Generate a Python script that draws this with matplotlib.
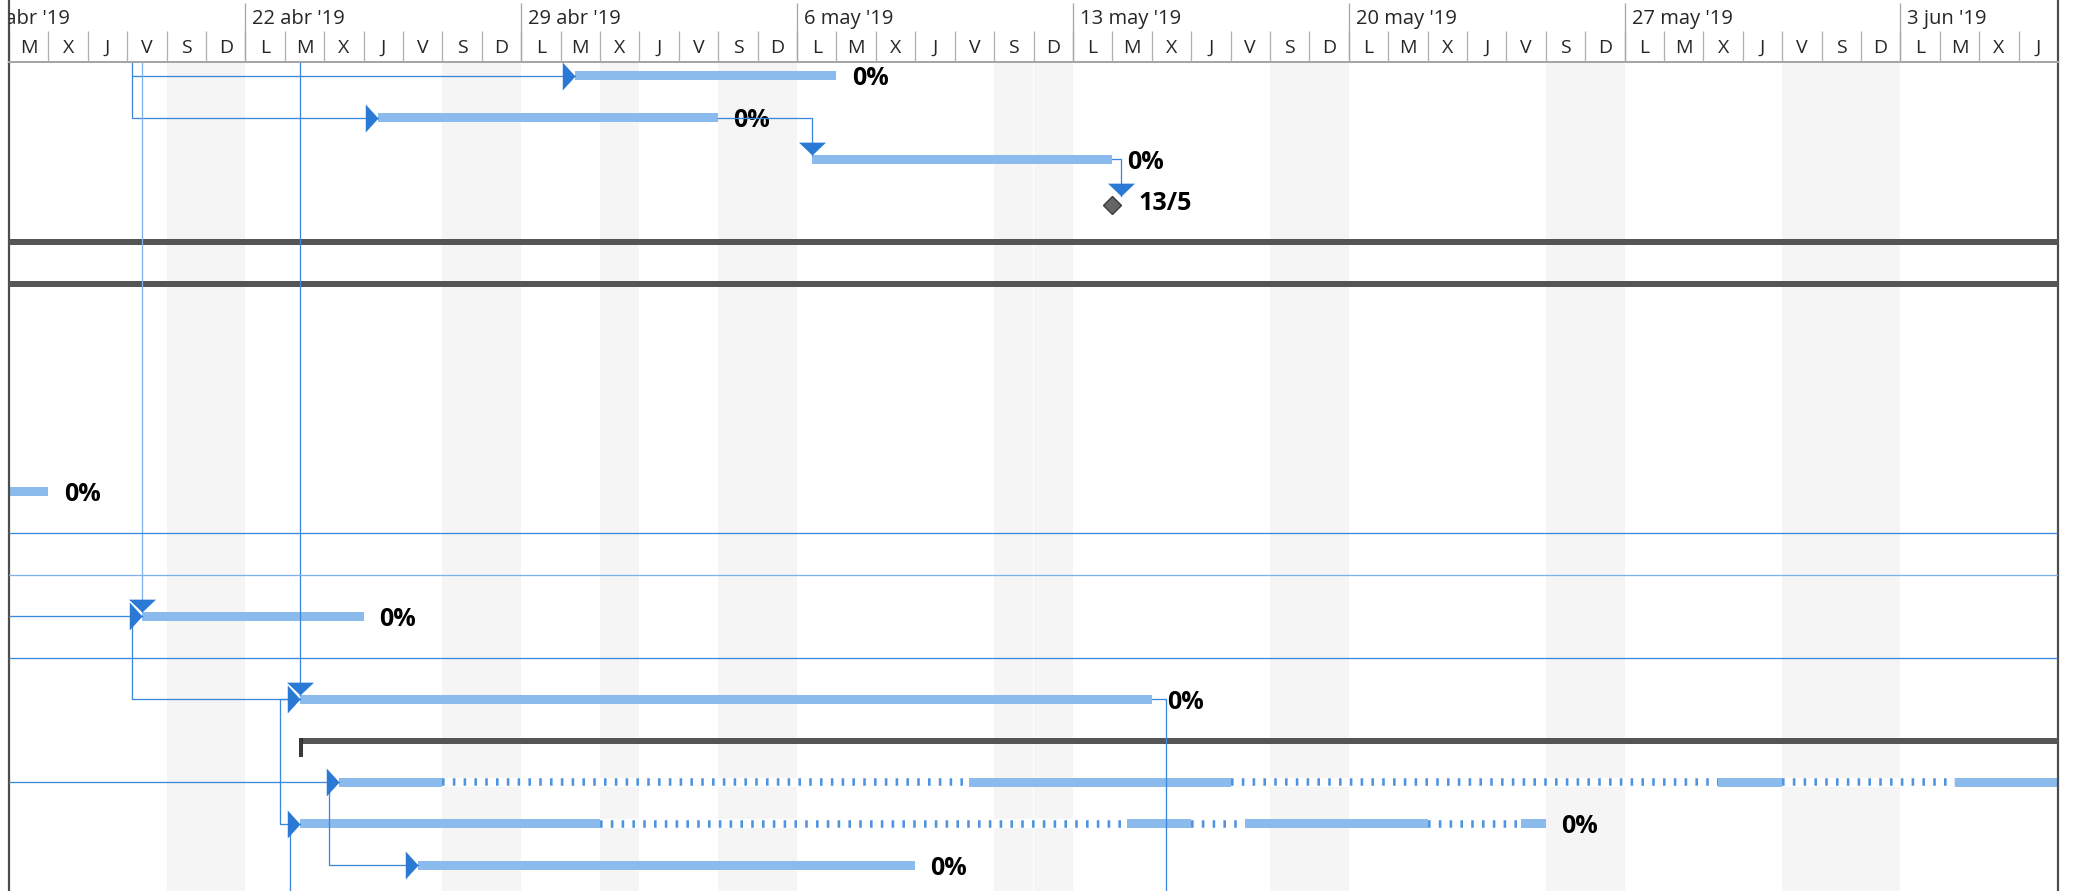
import matplotlib
matplotlib.use('Agg')
import matplotlib.pyplot as plt
import matplotlib.dates as mdates
from matplotlib.path import Path
import pandas as pd

plt.rcParams['font.family'] = ['Open Sans', 'DejaVu Sans']
plt.rcParams['lines.scale_dashes'] = False

# ---- timescale ----
view_start = "2019-04-16"
view_end = "2019-06-07"
week_starts = ["2019-04-15", "2019-04-22", "2019-04-29", "2019-05-06",
               "2019-05-13", "2019-05-20", "2019-05-27", "2019-06-03"]
week_labels = ["15 abr '19", "22 abr '19", "29 abr '19", "6 may '19",
               "13 may '19", "20 may '19", "27 may '19", "3 jun '19"]
day_letters = ["L", "M", "X", "J", "V", "S", "D"]
holidays = ["2019-05-01", "2019-05-31"]

# ---- tasks (row = line of the Gantt, counted from the top of the view) ----
task_rows = [0, 1, 2, 10, 13, 15, 19]
task_starts = ["2019-04-30 09:00", "2019-04-25 09:00", "2019-05-06 09:00", "2019-04-12 09:00",
               "2019-04-19 09:00", "2019-04-23 09:00", "2019-04-26 09:00"]
task_ends = ["2019-05-07", "2019-05-04", "2019-05-14", "2019-04-17",
             "2019-04-25", "2019-05-15", "2019-05-09"]
task_labels = ["0%", "0%", "0%", "0%", "0%", "0%", "0%"]

milestone_rows = [3]
milestone_dates = ["2019-05-14"]
milestone_labels = ["13/5"]

summary_rows = [4, 5, 16]
summary_starts = ["2019-04-01", "2019-04-01", "2019-04-23 09:00"]
summary_ends = ["2019-06-30", "2019-06-30", "2019-06-30"]
summary_marked = [False, False, True]

# split tasks: working pieces, dotted in between
row17_starts = ["2019-04-24 09:00", "2019-05-10 09:00", "2019-05-29 09:00", "2019-06-04 09:00"]
row17_ends = ["2019-04-27", "2019-05-17", "2019-05-31", "2019-06-10"]
row18_starts = ["2019-04-23 09:00", "2019-05-14 09:00", "2019-05-17 09:00", "2019-05-24 09:00"]
row18_ends = ["2019-05-01", "2019-05-16", "2019-05-22", "2019-05-25"]
split_rows = [17, 18]
split_labels = [None, "0%"]

# dependency links: (date, row) vertices, arrow head at the last one
link_paths = [
    [("2019-04-19 02:45", -1), ("2019-04-19 02:45", 1), ("2019-04-25 09:00", 1)],
    [("2019-04-19 02:45", 0), ("2019-04-30 09:00", 0)],
    [("2019-04-19 09:00", -1), ("2019-04-19 09:00", 13)],
    [("2019-04-23 09:00", -1), ("2019-04-23 09:00", 15)],
    [("2019-04-10", 13), ("2019-04-19 09:00", 13)],
    [("2019-04-19 09:00", 13), ("2019-04-19 02:45", 13), ("2019-04-19 02:45", 15), ("2019-04-23 09:00", 15)],
    [("2019-05-04", 1), ("2019-05-06 09:00", 1), ("2019-05-06 09:00", 2)],
    [("2019-05-14", 2), ("2019-05-14 05:30", 2), ("2019-05-14 05:30", 3)],
    [("2019-05-15", 15), ("2019-05-15 09:00", 15), ("2019-05-15 09:00", 21)],
    [("2019-04-23 09:00", 15), ("2019-04-22 20:50", 15), ("2019-04-22 20:50", 18), ("2019-04-23 09:00", 18)],
    [("2019-04-23 03:00", 18), ("2019-04-23 03:00", 21)],
    [("2019-04-10", 17), ("2019-04-24 09:00", 17)],
    [("2019-04-24 03:00", 17), ("2019-04-24 03:00", 19), ("2019-04-26 09:00", 19)],
    [("2019-04-10", 11), ("2019-06-30", 11)],
    [("2019-04-10", 12), ("2019-06-30", 12)],
    [("2019-04-10", 14), ("2019-06-30", 14)],
]
link_heads = ["right", "right", "down", "down", "right", "right", "down", "down",
              None, "right", None, "right", "right", None, None, None]
link_light = [False, False, True, False, False, False, False, False,
              False, False, False, False, False, False, True, False]

# ---- look ----
W, H, DPI = 2078, 891, 100
HEAD = 62          # header height, px
X0, X1 = 9, 2058   # left / right border, px
ROW_H = 41.55      # row pitch, px
ROW0 = 76          # centre of first row, px
BAR = 9 / ROW_H
SUMMARY = 6 / ROW_H
PT = 72 / DPI

BAR_C = '#8abbec'
LINK_C = '#3a87dc'
LINK_LIGHT = '#7db2ec'
HEAD_C = '#2a7ad5'
DARK = '#555555'


def num(s):
    return mdates.date2num(pd.Timestamp(s).to_pydatetime())


right_head = Path([(0, 0), (-10, 11), (-10, -11), (0, 0)],
                  [Path.MOVETO, Path.LINETO, Path.LINETO, Path.CLOSEPOLY])
down_head = Path([(0, 0), (-10.5, 10), (10.5, 10), (0, 0)],
                 [Path.MOVETO, Path.LINETO, Path.LINETO, Path.CLOSEPOLY])
start_mark = Path([(-1.5, 3), (1.5, 3), (1.5, -15), (-1.5, -15), (-1.5, 3)],
                  [Path.MOVETO, Path.LINETO, Path.LINETO, Path.LINETO, Path.CLOSEPOLY])

fig = plt.figure(figsize=(W / DPI, H / DPI), dpi=DPI)
ax = fig.add_axes([X0 / W, 0, (X1 - X0) / W, (H - HEAD) / H])
hd = fig.add_axes([X0 / W, (H - HEAD) / H, (X1 - X0) / W, HEAD / H])

x_lo, x_hi = num(view_start), num(view_end)
y_top = -(ROW0 - HEAD) / ROW_H
ax.set_xlim(x_lo, x_hi)
ax.set_ylim(y_top + (H - HEAD) / ROW_H, y_top)
hd.set_xlim(x_lo, x_hi)
hd.set_ylim(HEAD, 0)

for a in (ax, hd):
    a.set_xticks([])
    a.set_yticks([])
    a.spines['top'].set_visible(False)
    for side in ('left', 'right'):
        a.spines[side].set_color('#4d4d4d')
        a.spines[side].set_linewidth(2.2 * PT)
ax.spines['bottom'].set_visible(False)
hd.spines['bottom'].set_color('#a6a6a6')
hd.spines['bottom'].set_linewidth(2 * PT)

# nonworking days
days = pd.date_range("2019-04-14", "2019-06-09")
hol = set(pd.to_datetime(holidays))
for d in days:
    if d.weekday() >= 5 or d in hol:
        ax.axvspan(num(d), num(d) + 1, color='#f5f5f5', lw=0, zorder=0)

# header
view_days = pd.date_range(view_start, view_end, inclusive='left')
for d in view_days:
    hd.vlines(num(d), 31, HEAD, color='#b0b0b0', lw=1.3 * PT)
    hd.text(num(d) + 0.5, 48, day_letters[d.weekday()], ha='center', va='center',
            fontsize=14, color='#262626', clip_on=True)
for ws, lab in zip(week_starts, week_labels):
    hd.vlines(num(ws), 3, HEAD, color='#a6a6a6', lw=1.3 * PT)
    hd.annotate(lab, (num(ws), 19), xytext=(5, 0), textcoords='offset points',
                va='center', ha='left', fontsize=14.5, color='#262626',
                annotation_clip=False, clip_on=True)

# summary bars
for r, s, e, mk in zip(summary_rows, summary_starts, summary_ends, summary_marked):
    ax.barh(r, num(e) - num(s), left=num(s), height=SUMMARY, color=DARK, lw=0, zorder=3)
    if mk:
        ax.plot(num(s), r, marker=start_mark, ms=30 * PT, color='#3c3c3c',
                mec='#222222', mew=0.6, lw=0, zorder=6)

# task bars
for r, s, e, lab in zip(task_rows, task_starts, task_ends, task_labels):
    ax.barh(r, num(e) - num(s), left=num(s), height=BAR, color=BAR_C, lw=0, zorder=2)
    ax.annotate(lab, (num(e), r), xytext=(11, 0), textcoords='offset points',
                va='center_baseline', ha='left', fontsize=18, fontweight='bold',
                color='black', zorder=3)

# split tasks
for r, starts, ends, lab in zip(split_rows, [row17_starts, row18_starts],
                                [row17_ends, row18_ends], split_labels):
    for i, (s, e) in enumerate(zip(starts, ends)):
        ax.barh(r, num(e) - num(s), left=num(s), height=BAR, color=BAR_C, lw=0, zorder=2)
        if i + 1 < len(starts):
            g0, g1 = num(e), num(starts[i + 1])
            ax.barh(r, g1 - g0, left=g0, height=BAR, color='white', lw=0, zorder=1)
            ax.plot([g0, g1], [r, r], color='#4f94e0', lw=7.5 * PT,
                    dashes=(2.6 * PT, 8.2 * PT), zorder=2)
    if lab:
        ax.annotate(lab, (num(ends[-1]), r), xytext=(11, 0), textcoords='offset points',
                    va='center_baseline', ha='left', fontsize=18, fontweight='bold',
                    color='black', zorder=3)

# milestones
for r, d, lab in zip(milestone_rows, milestone_dates, milestone_labels):
    ax.plot(num(d), r + 0.1, marker='D', ms=8.7, mfc='#656565', mec='#3a3a3a',
            mew=1.0, lw=0, zorder=5)
    ax.annotate(lab, (num(d), r), xytext=(18.5, 0), textcoords='offset points',
                va='center_baseline', ha='left', fontsize=18, fontweight='bold',
                color='black', zorder=3)

# links
for path, head, light in zip(link_paths, link_heads, link_light):
    xs = [num(p[0]) for p in path]
    ys = [p[1] for p in path]
    if head == 'down':
        ys[-1] = ys[-1] - BAR / 2
    ax.plot(xs, ys, color=LINK_LIGHT if light else LINK_C, lw=1.3 * PT,
            solid_joinstyle='round', zorder=4)
    if head == 'right':
        ax.plot(xs[-1], ys[-1], marker=right_head, ms=28 * PT, color=HEAD_C,
                mew=0, lw=0, zorder=5)
    elif head == 'down':
        ax.plot(xs[-1], ys[-1], marker=down_head, ms=27 * PT, color=HEAD_C,
                mew=0, lw=0, zorder=5)

fig.savefig('out.png', dpi=DPI)
